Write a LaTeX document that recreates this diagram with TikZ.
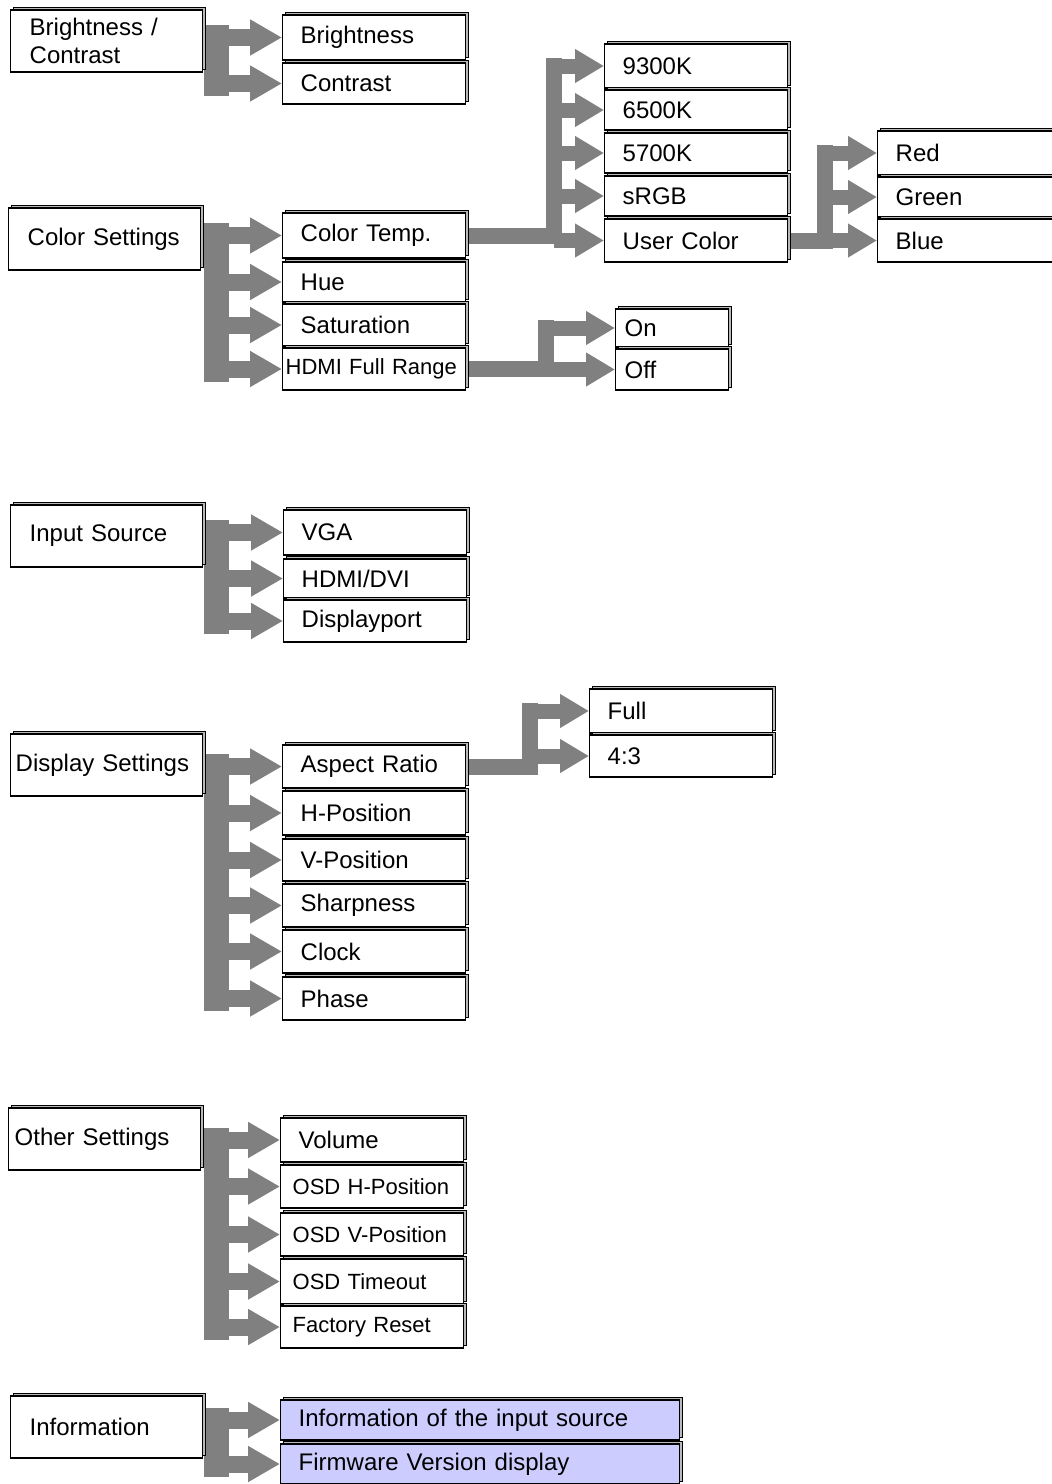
\documentclass[tikz,border=0pt]{standalone}
\usepackage{fontspec}
\setmainfont{Liberation Sans}
\usepackage{tikz}
\usetikzlibrary{arrows.meta,backgrounds,shadows}
\definecolor{osdGray}{HTML}{808080}
\definecolor{osdLav}{HTML}{CCCCFF}

\begin{document}
\begin{tikzpicture}[x=0.5pt, y=-0.5pt,
  font=\fontsize{12}{14}\selectfont,
  box/.style={draw=black, line width=0.7pt, fill=white, anchor=west,
    align=left, inner ysep=0pt,
    general shadow={fill=gray!55, draw=black, line width=0.4pt,
      shadow xshift=1.1pt, shadow yshift=1.1pt}},
  top/.style={box, inner xsep=9.5pt, text width=77pt, minimum height=31pt},
  item/.style={box, inner xsep=9pt, text width=73.5pt, minimum height=#1},
  std/.style={},
  narrow/.style={font=\fontsize{11}{13}\selectfont, inner xsep=1.5pt, text width=88.5pt},
  osd/.style={font=\fontsize{11}{13}\selectfont, inner xsep=6pt, text width=79.5pt},
  short/.style={inner xsep=4.5pt, text width=47.5pt},
  wide/.style={fill=osdLav, text width=181.5pt},
  bus/.style={draw=osdGray, line width=12.5pt, line cap=rect, line join=miter},
  branch/.style={draw=osdGray, line width=8.5pt, -{Triangle[length=16pt,width=17pt]}},
  subbus/.style={draw=osdGray, line width=8pt, line cap=rect, line join=miter},
  subbranch/.style={draw=osdGray, line width=7.5pt, -{Triangle[length=14.5pt,width=16pt]}}
]
\useasboundingbox (0,0) rectangle (1051,1484);

% top level menus
\node[top] (bc) at (10,41) {Brightness /\\Contrast};
\node[top] (cs) at (8,239) {Color Settings};
\node[top] (is) at (10,536) {Input Source};
\node[top, inner xsep=2.5pt, text width=91pt] (ds) at (10,765) {Display Settings};
\node[top, inner xsep=3pt, text width=90pt] (os) at (8,1139) {Other Settings};
\node[top] (inf) at (10,1427) {Information};

% second level
\foreach \y/\h/\n/\s/\t in {37.5/22.5/bri/std/Brightness, 83.5/20.5/con/std/Contrast,
    235.5/22.5/ct/std/Color Temp., 282/20/hue/std/Hue, 325/21/sat/std/Saturation,
    369/21/hdmi/narrow/HDMI Full Range,
    766.5/21.5/ar/std/Aspect Ratio, 813/22/hp/std/H-Position, 860/21/vp/std/V-Position,
    905.5/21.5/sh/std/Sharpness, 951.5/21.5/clk/std/Clock, 998.5/21.5/ph/std/Phase}
  \node[item=\h pt, \s] (\n) at (282,\y) {\t};
\foreach \y/\h/\n/\t in {532.5/22.5/vga/VGA, 578.5/19.5/hdv/{HDMI/DVI}, 621/21/dp/Displayport}
  \node[item=\h pt] (\n) at (283,\y) {\t};
\foreach \y/\h/\n/\s/\t in {1140/22/vol/std/Volume, 1186.5/21.5/osdh/osd/OSD H-Position,
    1234.5/21.5/osdv/osd/OSD V-Position, 1281.5/22.5/osdt/osd/OSD Timeout,
    1327/21/fr/osd/Factory Reset, 1420/20/ii/wide/Information of the input source,
    1464/20/fw/wide/Firmware Version display}
  \node[item=\h pt, \s] (\n) at (280,\y) {\t};

% third level
\foreach \y/\h/\n/\t in {66/22/k93/9300K, 110/20/k65/6500K, 153/20/k57/5700K,
    196/20/srgb/sRGB, 240.5/21.5/uc/User Color}
  \node[item=\h pt] (\n) at (604,\y) {\t};
\foreach \y/\h/\n/\t in {153/22/red/Red, 197/20/green/Green, 240.5/21.5/blue/Blue}
  \node[item=\h pt] (\n) at (877,\y) {\t};
\foreach \y/\h/\n/\t in {328/19/on/On, 369.5/20.5/off/Off}
  \node[item=\h pt, short] (\n) at (615,\y) {\t};
\foreach \y/\h/\n/\t in {711/22/full/Full, 756/21/r43/4:3}
  \node[item=\h pt] (\n) at (589,\y) {\t};

\coordinate (mx) at (216,0);
\coordinate (cx) at (554,0);
\coordinate (rx) at (825,0);
\coordinate (ox) at (546,0);
\coordinate (ax) at (530,0);

\begin{scope}[on background layer]
  \foreach \p/\a/\z/\kids in {bc/bri/con/{bri,con}, cs/ct/hdmi/{ct,hue,sat,hdmi},
      is/vga/dp/{vga,hdv,dp}, ds/ar/ph/{ar,hp,vp,sh,clk,ph},
      os/vol/fr/{vol,osdh,osdv,osdt,fr}, inf/ii/fw/{ii,fw}} {
    \draw[bus] (\p.east |- \a.west) -| (mx |- \z.west);
    \foreach \k in \kids
      \draw[branch] (mx |- \k.west) -- (\k.west);
  }
  \foreach \p/\x/\z/\kids in {ct/cx/k93/{k93,k65,k57,srgb,uc}, uc/rx/red/{red,green,blue},
      hdmi/ox/on/{on,off}, ar/ax/full/{full,r43}} {
    \draw[subbus] (\p.east) -| (\x |- \z.west);
    \foreach \k in \kids
      \draw[subbranch] (\x |- \k.west) -- (\k.west);
  }
\end{scope}
\end{tikzpicture}
\end{document}
